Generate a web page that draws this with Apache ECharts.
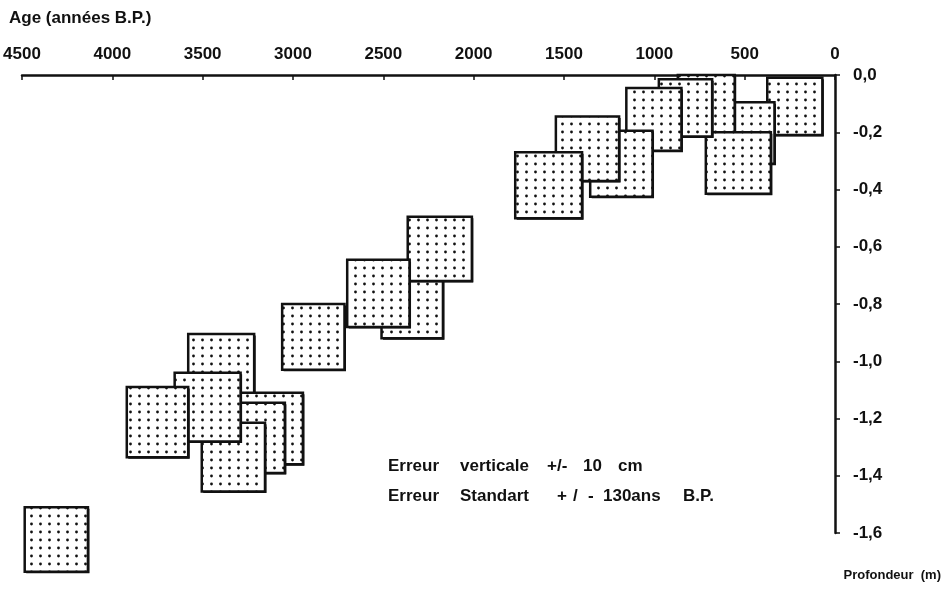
<!DOCTYPE html>
<html>
<head>
<meta charset="utf-8">
<script src="https://cdn.jsdelivr.net/npm/echarts@6/dist/echarts.min.js"></script>
<style>html,body{margin:0;padding:0;background:#fff;}#c{width:949px;height:589px;}</style>
</head>
<body>
<div id="c"></div>
<script>
// Age ticks (années B.P.) and depth ticks (m)
const ageTicks = [0, 500, 1000, 1500, 2000, 2500, 3000, 3500, 4000, 4500];
const depthTicks = [0, -0.2, -0.4, -0.6, -0.8, -1.0, -1.2, -1.4, -1.6];

// Samples, in drawing order: age range (years B.P.) and depth range (m)
const sampleIds  = ['W','V','T','U','S','R','C','B','A','F','D','E','G','H','K','L','M','I','J','N'];
const ageYoung   = [70, 335, 555, 355, 680, 850, 1010, 1195, 1400, 2170, 2010, 2355, 2715, 3215, 2945, 3045, 3155, 3290, 3580, 4135];
const ageOld     = [375, 650, 870, 715, 975, 1155, 1355, 1545, 1770, 2510, 2365, 2700, 3060, 3580, 3295, 3395, 3505, 3655, 3920, 4485];
const depthTop   = [-0.01, -0.095, 0.0, -0.20, -0.015, -0.045, -0.195, -0.145, -0.27, -0.705, -0.495, -0.645, -0.80, -0.905, -1.11, -1.145, -1.215, -1.04, -1.09, -1.51];
const depthBot   = [-0.21, -0.31, -0.205, -0.415, -0.215, -0.265, -0.425, -0.37, -0.50, -0.92, -0.72, -0.88, -1.03, -1.13, -1.36, -1.39, -1.455, -1.28, -1.335, -1.735];

const annotLine1 = ['Erreur', 'verticale', '+/-', '10', 'cm'];
const annotLine2 = ['Erreur', 'Standart', '+', '/', '-', '130ans', 'B.P.'];

const data = sampleIds.map((id, i) => [ageYoung[i], ageOld[i], depthTop[i], depthBot[i]]);

// dotted pattern
const pc = document.createElement('canvas');
pc.width = 9; pc.height = 8;
const pctx = pc.getContext('2d');
pctx.fillStyle = '#fff'; pctx.fillRect(0, 0, 9, 8);
pctx.fillStyle = '#111';
pctx.beginPath(); pctx.arc(4.5, 4, 1.4, 0, Math.PI * 2); pctx.fill();

const FONT = 'Liberation Sans';
const chart = echarts.init(document.getElementById('c'));

const l1x = [388, 460, 547, 583, 618];
const l2x = [388, 460, 557, 573, 588, 603, 683];
const textStyle = { fill: '#111', font: 'bold 17px "' + FONT + '"' };
const graphics = [
  { type: 'text', left: 9, top: 10, style: Object.assign({ text: 'Age (années B.P.)' }, textStyle) },
  { type: 'text', right: 8, top: 569, style: { text: 'Profondeur  (m)', font: 'bold 13px "' + FONT + '"', fill: '#111' } }
];
annotLine1.forEach((w, i) => graphics.push({ type: 'text', left: l1x[i], top: 458, style: Object.assign({ text: w }, textStyle) }));
annotLine2.forEach((w, i) => graphics.push({ type: 'text', left: l2x[i], top: 488, style: Object.assign({ text: w }, textStyle) }));

chart.setOption({
  animation: false,
  backgroundColor: '#fff',
  grid: { left: 22, right: 114, top: 75, bottom: 56, containLabel: false },
  xAxis: {
    type: 'value', position: 'top', inverse: true,
    min: ageTicks[0], max: ageTicks[ageTicks.length - 1], interval: 500,
    axisLine: { onZero: false, lineStyle: { color: '#111', width: 2.5 } },
    axisTick: { inside: true, length: 5, lineStyle: { color: '#111', width: 1.5 } },
    axisLabel: { margin: 12, color: '#111', fontFamily: FONT, fontSize: 17, fontWeight: 'bold',
      formatter: v => String(v) },
    splitLine: { show: false }
  },
  yAxis: {
    type: 'value', position: 'right',
    min: depthTicks[depthTicks.length - 1], max: depthTicks[0], interval: 0.2,
    axisLine: { onZero: false, lineStyle: { color: '#111', width: 2.5 } },
    axisTick: { length: 5, lineStyle: { color: '#111', width: 1.5 } },
    axisLabel: {
      margin: 18, color: '#111', fontFamily: FONT, fontSize: 17, fontWeight: 'bold',
      formatter: v => v.toFixed(1).replace('.', ',')
    },
    splitLine: { show: false }
  },
  graphic: graphics,
  series: [{
    type: 'custom',
    clip: false,
    data: data,
    renderItem: function (params, api) {
      const p1 = api.coord([api.value(1), api.value(2)]);
      const p2 = api.coord([api.value(0), api.value(3)]);
      const x = Math.min(p1[0], p2[0]), y = Math.min(p1[1], p2[1]);
      const w = Math.abs(p2[0] - p1[0]), h = Math.abs(p2[1] - p1[1]);
      return {
        type: 'group',
        children: [
          { type: 'rect', shape: { x: x + 1.5, y: y + 1.5, width: w, height: h }, style: { fill: '#111' } },
          { type: 'rect', shape: { x: x, y: y, width: w, height: h },
            style: { fill: { image: pc, repeat: 'repeat' }, stroke: '#111', lineWidth: 2.5 } }
        ]
      };
    }
  }]
});
</script>
</body>
</html>
